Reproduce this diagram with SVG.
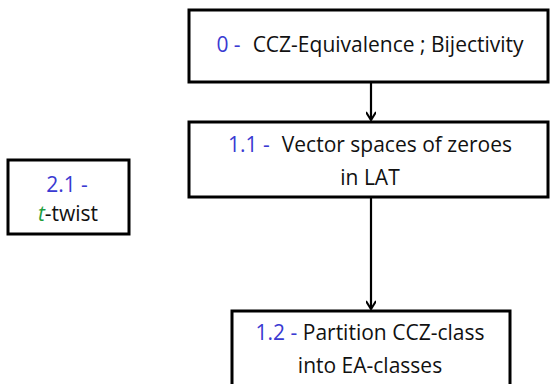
<svg xmlns="http://www.w3.org/2000/svg" width="550" height="384" viewBox="0 0 550 384">
<defs>
<style>
.box{fill:#fff;stroke:#000;stroke-width:3}
.t{font-family:"Open Sans","Noto Sans",sans-serif;font-size:21px;fill:#111;text-anchor:middle}
.n{fill:#3a3ad2}
.g{fill:#1f9e3e;font-style:italic}
.c{stroke:#000;stroke-width:2.2;fill:none}
</style>
<marker id="ah" markerWidth="12" markerHeight="10" refX="10" refY="5" orient="auto" markerUnits="userSpaceOnUse" viewBox="0 0 12 10">
<path d="M2,0 L10,5 L2,10" fill="none" stroke="#000" stroke-width="2"/>
</marker>
</defs>
<rect width="550" height="384" fill="#fff"/>
<g id="connectors">
<line class="c" x1="371" y1="83" x2="371" y2="120" marker-end="url(#ah)"/>
<line class="c" x1="371" y1="198" x2="371" y2="309" marker-end="url(#ah)"/>
</g>
<g id="n0">
<rect class="box" x="189" y="10" width="359" height="72"/>
<text class="t" x="370" y="52"><tspan class="n">0 -</tspan><tspan dx="12">CCZ-Equivalence ; Bijectivity</tspan></text>
</g>
<g id="n11">
<rect class="box" x="189" y="122" width="359" height="75"/>
<text class="t" x="370" y="152"><tspan class="n">1.1 -</tspan><tspan dx="12">Vector spaces of zeroes</tspan></text>
<text class="t" x="370" y="185">in LAT</text>
</g>
<g id="n21">
<rect class="box" x="8" y="160" width="121" height="74"/>
<text class="t" x="67" y="192"><tspan class="n">2.1 -</tspan></text>
<text class="t" x="68" y="221"><tspan class="g">t</tspan>-twist</text>
</g>
<g id="n12">
<rect class="box" x="232" y="311" width="278" height="80"/>
<text class="t" x="370" y="340"><tspan class="n">1.2 - </tspan>Partition CCZ-class</text>
<text class="t" x="370" y="373">into EA-classes</text>
</g>
</svg>
